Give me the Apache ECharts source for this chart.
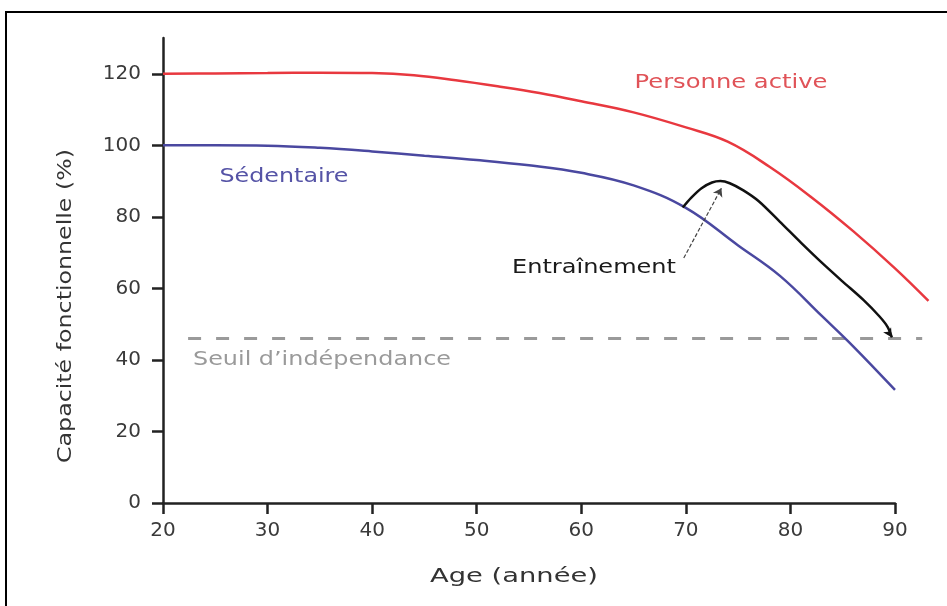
<!DOCTYPE html>
<html>
<head>
<meta charset="utf-8">
<script src="https://cdn.jsdelivr.net/npm/echarts@6/dist/echarts.min.js"></script>
<style>html,body{margin:0;padding:0;background:#fff;}#c{width:947px;height:606px;}</style>
</head>
<body>
<div id="c"></div>
<script>
// ---- data ----
const xTicks = [20, 30, 40, 50, 60, 70, 80, 90];
const yTicks = [0, 20, 40, 60, 80, 100, 120];

const activeAges = [20, 25, 30, 35, 40, 44, 48, 52, 56, 60, 65, 70, 74, 78, 82, 86, 90, 93.2];
const activeVals = [120, 120.1, 120.2, 120.3, 120.2, 119.6, 118.2, 116.5, 114.6, 112.3, 109.2, 105, 101, 94, 85.5, 76, 65.6, 56.5];

const sedAges = [20, 25, 30, 35, 40, 45, 50, 55, 60, 65, 70, 75, 79, 83, 86, 90];
const sedVals = [100, 100, 99.9, 99.3, 98.3, 97.1, 95.9, 94.4, 92.3, 88.8, 82.5, 72, 63.5, 52.3, 43.8, 31.6];

const trainAges = [69.7, 70.5, 71.5, 72.5, 73.3, 74.2, 75.5, 77, 79, 81, 83, 85, 87, 88.5, 89.3, 89.7];
const trainVals = [82.6, 85.3, 88, 89.6, 90, 89.4, 87.4, 84.3, 78.6, 72.8, 67.2, 61.9, 56.7, 52.2, 49.2, 46.3];

const thresholdAges = [22.4, 92.6];
const thresholdVal = 46;

const arrowFrom = [69.8, 68.5];
const arrowTo = [73.4, 88];

const zip = (a, b) => a.map((v, i) => [v, b[i]]);

// ---- text helpers ----
const FONT = '"DejaVu Sans", "Liberation Sans", sans-serif';
const ctx = document.createElement('canvas').getContext('2d');
function tw(text, size) { ctx.font = size + 'px ' + FONT; return ctx.measureText(text).width; }
function label(text, cx, cy, width, color, size, rot) {
  return {
    type: 'text', x: cx, y: cy, rotation: rot || 0,
    scaleX: width / tw(text, size), z: 50,
    style: { text: text, font: size + 'px ' + FONT, fill: color,
             align: 'center', verticalAlign: 'middle',
             textAlign: 'center', textVerticalAlign: 'middle' }
  };
}

// layout: visible axes span 20..90, data layer extends to 93.5 at the same scale
const W = 947, L = 163, R = 52, T = 38, B = 103;
const X_MIN = 20, X_MAX = 90, X_DATA_MAX = 93.5;
const pxPerYear = (W - L - R) / (X_MAX - X_MIN);

const trainData = zip(trainAges, trainVals).map((p, i, arr) =>
  i === arr.length - 1 ? { value: p, symbol: 'arrow', symbolSize: [7, 9], symbolRotate: 212 } : p);

const chart = echarts.init(document.getElementById('c'));
const axisText = { fontFamily: FONT, fontSize: 20, color: '#3a3a3a' };

chart.setOption({
  animation: false,
  backgroundColor: '#fff',
  grid: [
    { left: L, right: R, top: T, bottom: B },
    { left: L, width: (X_DATA_MAX - X_MIN) * pxPerYear, top: T, bottom: B }
  ],
  xAxis: [
    {
      gridIndex: 0, type: 'value', min: X_MIN, max: X_MAX, interval: 10,
      splitLine: { show: false },
      axisLine: { lineStyle: { color: '#222', width: 2.5 } },
      axisTick: { length: 11, lineStyle: { color: '#222', width: 2.5 } },
      axisLabel: Object.assign({ margin: 18, customValues: xTicks }, axisText)
    },
    { gridIndex: 1, type: 'value', min: X_MIN, max: X_DATA_MAX, show: false }
  ],
  yAxis: [
    {
      gridIndex: 0, type: 'value', min: 0, max: 130, interval: 10,
      splitLine: { show: false },
      axisLine: { onZero: false, lineStyle: { color: '#222', width: 2.5 } },
      axisTick: { length: 11, customValues: yTicks, lineStyle: { color: '#222', width: 2.5 } },
      axisLabel: Object.assign({ margin: 22, customValues: yTicks }, axisText)
    },
    { gridIndex: 1, type: 'value', min: 0, max: 130, show: false }
  ],
  series: [
    {
      name: 'Seuil', type: 'line', xAxisIndex: 1, yAxisIndex: 1, clip: false, symbol: 'none',
      data: thresholdAges.map(a => [a, thresholdVal]),
      lineStyle: { color: '#9a9a9a', width: 3, type: [13, 15] }, z: 2
    },
    {
      name: 'Personne active', type: 'line', xAxisIndex: 1, yAxisIndex: 1, clip: false, symbol: 'none', smooth: 0.4,
      data: zip(activeAges, activeVals),
      lineStyle: { color: '#e8383f', width: 2.5 }, z: 3
    },
    {
      name: 'Sédentaire', type: 'line', xAxisIndex: 1, yAxisIndex: 1, clip: false, symbol: 'none', smooth: 0.4,
      data: zip(sedAges, sedVals),
      lineStyle: { color: '#4a48a0', width: 2.5 }, z: 3
    },
    {
      name: 'Entraînement', type: 'line', xAxisIndex: 1, yAxisIndex: 1, clip: false,
      symbol: 'none', showSymbol: true, smooth: 0.3,
      data: trainData,
      itemStyle: { color: '#111' },
      lineStyle: { color: '#111', width: 2.5 }, z: 4,
      markLine: {
        silent: true, symbol: ['none', 'arrow'], symbolSize: 8,
        label: { show: false },
        lineStyle: { color: '#444', width: 1.2, type: [4, 2] },
        data: [[{ coord: arrowFrom }, { coord: arrowTo }]]
      }
    }
  ],
  graphic: [
    { type: 'rect', z: 0, shape: { x: 6, y: 12, width: 1000, height: 700 },
      style: { fill: 'none', stroke: '#000', lineWidth: 2 } },
    label('Personne active', 731, 83, 193, '#e05358', 19),
    label('Sédentaire', 284, 177, 129, '#5553a6', 19),
    label('Entraînement', 594, 268, 164, '#1a1a1a', 19),
    label('Seuil d\u2019indépendance', 322, 360, 258, '#9a9a9a', 19),
    label('Age (année)', 514, 577, 168, '#333', 19),
    label('Capacité fonctionnelle (%)', 66, 306, 314, '#333', 19, Math.PI / 2)
  ]
});
</script>
</body>
</html>
